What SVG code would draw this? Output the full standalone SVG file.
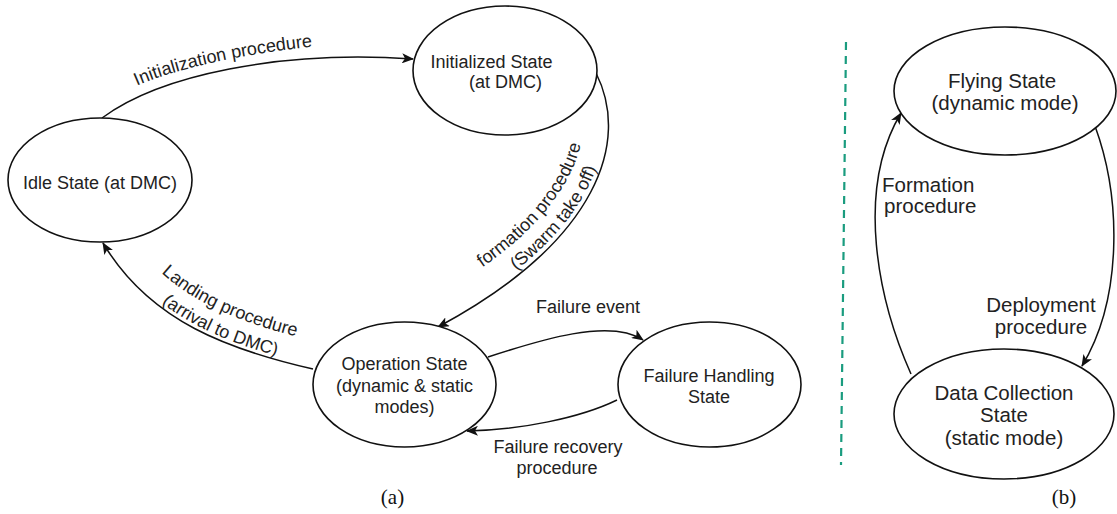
<svg xmlns="http://www.w3.org/2000/svg" width="1117" height="514" viewBox="0 0 1117 514">
  <style>
    .state { fill: #ffffff; stroke: #111111; stroke-width: 1.6; }
    .edge { fill: none; stroke: #111111; stroke-width: 1.5; marker-end: url(#arrow); }
    .lbl { font-family: "Liberation Sans", Arial, sans-serif; font-size: 18px; fill: #222222; }
    .lblb { font-family: "Liberation Sans", Arial, sans-serif; font-size: 20.5px; fill: #222222; }
    .mid { text-anchor: middle; }
    .cap { font-family: "Liberation Serif", "Times New Roman", serif; font-size: 21px; fill: #111111; text-anchor: middle; }
    .divider { stroke: #1a9c7f; stroke-width: 2.2; stroke-dasharray: 8 6; fill: none; }
  </style>
  <defs>
    <marker id="arrow" viewBox="0 0 12 10" refX="11" refY="5" markerWidth="12" markerHeight="10" markerUnits="userSpaceOnUse" orient="auto">
      <path d="M0,0 L12,5 L0,10 L3,5 Z" fill="#111111"/>
    </marker>
    <!-- baselines for the curved connector labels -->
    <path id="initLabelPath" d="M132,88 C170,70 240,54 318,46"/>
    <path id="formLabel1" d="M424.3,301.5 C574.4,226.4 604.4,126.4 570.1,86.1"/>
    <path id="formLabel2" d="M435.6,322.6 C595.6,237.7 625.6,137.7 591.5,75.3"/>
    <path id="landLabel1" d="M127.1,228.7 C163.1,297.3 243.1,325.3 319.2,341.7"/>
    <path id="landLabel2" d="M106.4,241 C151.9,318.5 231.9,346.5 313.9,365.1"/>
  </defs>

  <rect width="1117" height="514" fill="#ffffff"/>

  <!-- connectors -->
  <g id="connectors">
    <path class="edge" d="M102,118 C160,75 280,50 413,59"/>
    <path class="edge" d="M596,73 C630,140 600,240 438,327"/>
    <path class="edge" d="M313,369 C230,350 150,322 103,243"/>
    <path class="edge" d="M488,357 C540,340 610,318 643,340"/>
    <path class="edge" d="M617,400 C580,418 520,430 467,431"/>
    <path class="edge" d="M911,374 C878,300 855,190 901,113"/>
    <path class="edge" d="M1095,126 C1122,200 1122,300 1082,366"/>
  </g>

  <!-- connector labels -->
  <g id="edge-labels">
    <text class="lbl"><textPath href="#initLabelPath" startOffset="50%" text-anchor="middle">Initialization procedure</textPath></text>
    <text class="lbl"><textPath href="#formLabel1" startOffset="51%" text-anchor="middle">formation procedure</textPath><textPath href="#formLabel2" startOffset="50%" text-anchor="middle">(Swarm take off)</textPath></text>
    <text class="lbl"><textPath href="#landLabel1" startOffset="57%" text-anchor="middle">Landing procedure</textPath><textPath href="#landLabel2" startOffset="59%" text-anchor="middle">(arrival to DMC)</textPath></text>
    <text class="lbl mid" x="588" y="313">Failure event</text>
    <text class="lbl mid" x="558" y="453">Failure recovery</text>
    <text class="lbl mid" x="557" y="474">procedure</text>
    <text class="lblb" x="882" y="192">Formation</text>
    <text class="lblb" x="884" y="213">procedure</text>
    <text class="lblb mid" x="1041" y="312">Deployment</text>
    <text class="lblb mid" x="1041" y="334">procedure</text>
  </g>

  <!-- panel (a) states -->
  <g id="idle">
    <ellipse class="state" cx="100" cy="180" rx="92" ry="62"/>
    <text class="lbl mid" x="100" y="189">Idle State (at DMC)</text>
  </g>
  <g id="initialized">
    <ellipse class="state" cx="505" cy="70.5" rx="92" ry="64.5"/>
    <text class="lbl mid" x="491.5" y="68">Initialized State</text>
    <text class="lbl mid" x="505.5" y="88">(at DMC)</text>
  </g>
  <g id="operation">
    <ellipse class="state" cx="404.5" cy="384.5" rx="91.5" ry="62.5"/>
    <text class="lbl mid" x="404.5" y="370">Operation State</text>
    <text class="lbl mid" x="404.5" y="392">(dynamic &amp; static</text>
    <text class="lbl mid" x="404.5" y="413">modes)</text>
  </g>
  <g id="failure-handling">
    <ellipse class="state" cx="709.5" cy="384.5" rx="91.5" ry="62.5"/>
    <text class="lbl mid" x="709" y="382">Failure Handling</text>
    <text class="lbl mid" x="709" y="403">State</text>
  </g>

  <!-- divider between panels -->
  <line class="divider" x1="846" y1="42" x2="841" y2="465"/>

  <!-- panel (b) states -->
  <g id="flying">
    <ellipse class="state" cx="1005" cy="91" rx="111" ry="64"/>
    <text class="lblb mid" x="1002" y="88">Flying State</text>
    <text class="lblb mid" x="1005" y="110">(dynamic mode)</text>
  </g>
  <g id="data-collection">
    <ellipse class="state" cx="1004" cy="414" rx="110" ry="65"/>
    <text class="lblb mid" x="1004" y="400">Data Collection</text>
    <text class="lblb mid" x="1004" y="422">State</text>
    <text class="lblb mid" x="1004" y="445">(static mode)</text>
  </g>

  <!-- panel captions -->
  <text class="cap" x="392.5" y="504">(a)</text>
  <text class="cap" x="1064" y="504">(b)</text>
</svg>
